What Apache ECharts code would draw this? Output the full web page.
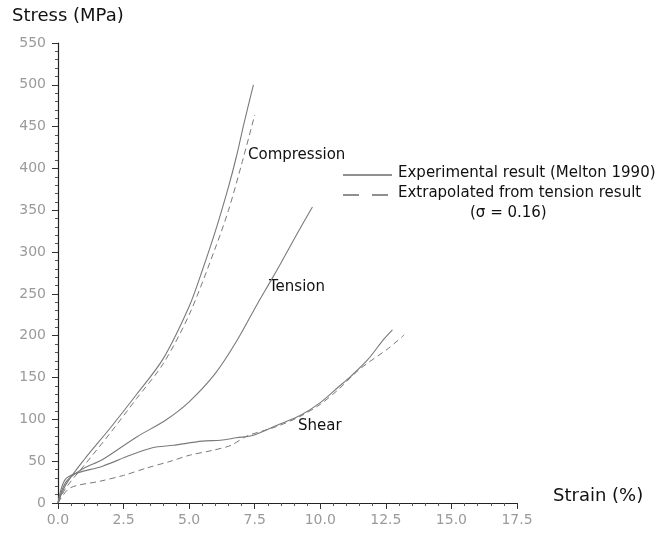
<!DOCTYPE html>
<html>
<head>
<meta charset="utf-8">
<script src="https://cdn.jsdelivr.net/npm/echarts@6/dist/echarts.min.js"></script>
<style>
html,body{margin:0;padding:0;background:#fff;}
#chart{width:667px;height:536px;}
</style>
</head>
<body>
<div id="chart"></div>
<script>
// Axis ticks
var strainTicks = [0, 2.5, 5.0, 7.5, 10.0, 12.5, 15.0, 17.5];
var stressTicks = [0, 50, 100, 150, 200, 250, 300, 350, 400, 450, 500, 550];

// Compression - experimental (Melton 1990)
var compExpStrain = [0, 0.3, 1.0, 2.0, 3.0, 4.0, 5.0, 5.5, 6.0, 6.5, 6.8, 7.1, 7.45];
var compExpStress = [0, 22, 52, 90, 130, 172, 235, 278, 325, 378, 414, 455, 500];
// Compression - extrapolated from tension
var compExtStrain = [0, 0.3, 1.0, 2.0, 3.0, 4.0, 5.0, 6.0, 6.5, 7.0, 7.5];
var compExtStress = [0, 18, 45, 84, 125, 166, 225, 305, 350, 405, 464];

// Tension - experimental
var tenExpStrain = [0, 0.3, 0.9, 1.7, 3.0, 4.1, 5.0, 6.0, 6.8, 7.6, 8.1, 8.5, 9.1, 9.7];
var tenExpStress = [0, 25, 40, 52, 79, 99, 121, 155, 193, 238, 265, 287, 321, 354];

// Shear - experimental
var shearExpStrain = [0, 0.33, 1.7, 2.75, 3.6, 4.4, 5.5, 6.2, 6.8, 7.45, 8.35, 9.25, 10.0, 10.7, 11.15, 11.8, 12.4, 12.75];
var shearExpStress = [0, 30, 44, 57, 66, 69, 74, 75, 78, 81, 93, 105, 120, 139, 151, 171, 195, 207];
// Shear - extrapolated from tension
var shearExtStrain = [0, 0.46, 1.6, 2.5, 3.4, 4.3, 5.0, 5.9, 6.6, 7.2, 8.3, 9.2, 10.0, 10.7, 11.5, 12.6, 13.2];
var shearExtStress = [0, 18, 26, 33, 42, 50, 57, 63, 69, 80, 91, 103, 118, 136, 160, 185, 201];

// Text
var yAxisTitle = 'Stress (MPa)';
var xAxisTitle = 'Strain (%)';
var curveLabels = ['Compression', 'Tension', 'Shear'];
var legendTexts = ['Experimental result (Melton 1990)', 'Extrapolated from tension result', '(σ = 0.16)'];

function pairs(xs, ys) {
  return xs.map(function (x, i) { return [x, ys[i]]; });
}

var FONT = 'DejaVu Sans';
var lineCol = '#7a7a7a';

function lineSeries(name, xs, ys, dashed) {
  return {
    name: name,
    type: 'line',
    data: pairs(xs, ys),
    smooth: 0.3,
    showSymbol: false,
    symbol: 'none',
    silent: true,
    lineStyle: {
      color: lineCol,
      width: dashed ? 1 : 1.1,
      type: dashed ? [6, 4] : 'solid'
    }
  };
}

var chart = echarts.init(document.getElementById('chart'), null, { renderer: 'canvas' });

chart.setOption({
  animation: false,
  backgroundColor: '#ffffff',
  grid: { left: 58, right: 150, top: 43, bottom: 33, containLabel: false },
  xAxis: {
    type: 'value',
    min: strainTicks[0],
    max: strainTicks[strainTicks.length - 1],
    interval: strainTicks[1] - strainTicks[0],
    axisLine: { show: true, lineStyle: { color: '#222', width: 1.2 } },
    axisTick: { show: true, inside: false, length: 6, lineStyle: { color: '#333' } },
    minorTick: { show: true, splitNumber: 5, length: 3, lineStyle: { color: '#555' } },
    splitLine: { show: false },
    axisLabel: {
      color: '#9a9a9a', fontFamily: FONT, fontSize: 14, margin: 10,
      formatter: function (v) { return v.toFixed(1); }
    }
  },
  yAxis: {
    type: 'value',
    min: stressTicks[0],
    max: stressTicks[stressTicks.length - 1],
    interval: stressTicks[1] - stressTicks[0],
    axisLine: { show: true, lineStyle: { color: '#222', width: 1.2 } },
    axisTick: { show: true, inside: false, length: 6, lineStyle: { color: '#333' } },
    minorTick: { show: true, splitNumber: 5, length: 3, lineStyle: { color: '#555' } },
    splitLine: { show: false },
    axisLabel: { color: '#9a9a9a', fontFamily: FONT, fontSize: 14, margin: 12 }
  },
  series: [
    lineSeries('Compression experimental', compExpStrain, compExpStress, false),
    lineSeries('Compression extrapolated', compExtStrain, compExtStress, true),
    lineSeries('Tension experimental', tenExpStrain, tenExpStress, false),
    lineSeries('Shear experimental', shearExpStrain, shearExpStress, false),
    lineSeries('Shear extrapolated', shearExtStrain, shearExtStress, true)
  ],
  graphic: [
    { type: 'text', left: 12, top: 7, style: { text: yAxisTitle, font: '18px "DejaVu Sans"', fill: '#111' } },
    { type: 'text', left: 553, top: 487, style: { text: xAxisTitle, font: '18px "DejaVu Sans"', fill: '#111' } },
    { type: 'text', left: 248, top: 148, style: { text: curveLabels[0], font: '15px "DejaVu Sans"', fill: '#111' } },
    { type: 'text', left: 269, top: 280, style: { text: curveLabels[1], font: '15px "DejaVu Sans"', fill: '#111' } },
    { type: 'text', left: 298, top: 419, style: { text: curveLabels[2], font: '15px "DejaVu Sans"', fill: '#111' } },
    { type: 'line', shape: { x1: 343, y1: 175, x2: 392, y2: 175 }, style: { stroke: '#222', lineWidth: 1.2 } },
    { type: 'line', shape: { x1: 343, y1: 195, x2: 392, y2: 195 }, style: { stroke: '#222', lineWidth: 1.2, lineDash: [16, 13] } },
    { type: 'text', left: 398, top: 166, style: { text: legendTexts[0], font: '15px "DejaVu Sans"', fill: '#111' } },
    { type: 'text', left: 398, top: 186, style: { text: legendTexts[1], font: '15px "DejaVu Sans"', fill: '#111' } },
    { type: 'text', left: 470, top: 206, style: { text: legendTexts[2], font: '15px "DejaVu Sans"', fill: '#111' } }
  ]
});
</script>
</body>
</html>
